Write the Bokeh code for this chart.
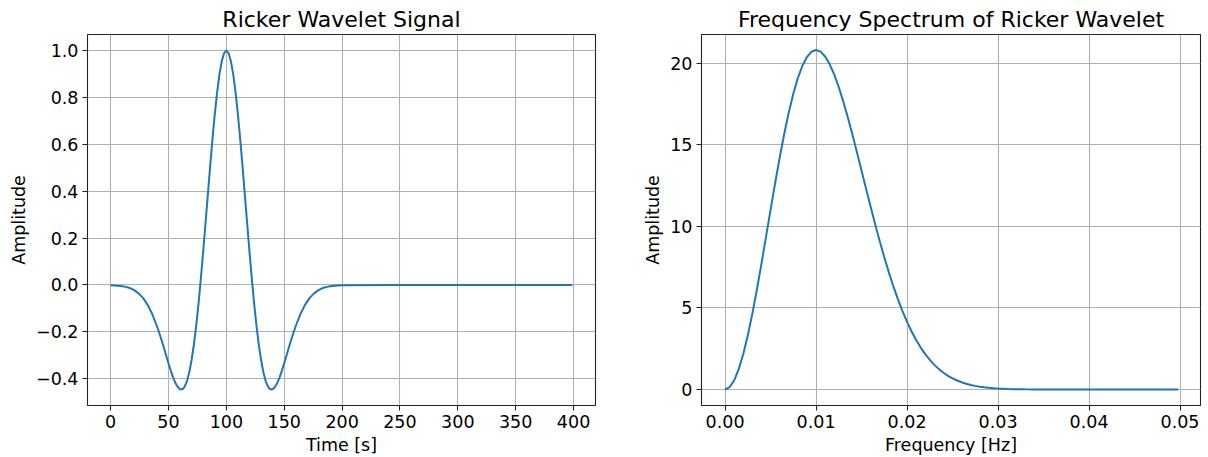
from bokeh.plotting import figure
from bokeh.layouts import row
from bokeh.models import Range1d, FixedTicker
from bokeh.embed import file_html
from bokeh.resources import INLINE

# ---- data ----
time_s = [0, 4, 8, 12, 16, 20, 24, 28, 32, 36, 40,
          42, 44, 46, 48, 50, 52, 54, 56, 58, 60, 62, 64, 66, 68, 70, 72, 74, 76, 78,
          80, 82, 84, 86, 88, 90, 92, 94, 96, 98, 100, 102, 104, 106, 108, 110, 112, 114,
          116, 118, 120, 122, 124, 126, 128, 130, 132, 134, 136, 138, 140, 142, 144, 146,
          148, 150, 152, 154, 156, 158,
          160, 164, 168, 172, 176, 180, 184, 188, 192, 196, 200,
          250, 300, 350, 399]
signal = [-0.001, -0.002, -0.004, -0.007, -0.012, -0.021, -0.035, -0.055, -0.085, -0.124,
          -0.175,
          -0.204, -0.235, -0.267, -0.301, -0.334, -0.365, -0.394, -0.418, -0.435, -0.445,
          -0.445, -0.434, -0.410, -0.372, -0.319, -0.253, -0.172, -0.078, 0.028,
          0.142, 0.262, 0.384, 0.505, 0.621, 0.727, 0.820, 0.897, 0.953, 0.988, 1.000,
          0.988, 0.953, 0.897, 0.820, 0.727, 0.621, 0.505, 0.384, 0.262,
          0.142, 0.028, -0.078, -0.172, -0.253, -0.319, -0.372, -0.410, -0.434, -0.445,
          -0.445, -0.435, -0.418, -0.394, -0.365, -0.334, -0.301, -0.267, -0.235, -0.204,
          -0.175, -0.124, -0.085, -0.055, -0.035, -0.021, -0.012, -0.007, -0.004, -0.002,
          -0.001, 0.0, 0.0, 0.0, 0.0]

freq_hz = [0.0, 0.0005, 0.001, 0.0015, 0.002, 0.0025, 0.003, 0.0035, 0.004, 0.0045,
           0.005, 0.0055, 0.006, 0.0065, 0.007, 0.0075, 0.008, 0.0085, 0.009, 0.0095,
           0.010, 0.0105, 0.011, 0.0115, 0.012, 0.0125, 0.013, 0.0135, 0.014, 0.0145,
           0.015, 0.0155, 0.016, 0.0165, 0.017, 0.0175, 0.018, 0.0185, 0.019, 0.0195,
           0.020, 0.0205, 0.021, 0.0215, 0.022, 0.0225, 0.023, 0.0235, 0.024, 0.0245,
           0.025, 0.0255, 0.026, 0.0265, 0.027, 0.0275, 0.028, 0.0285, 0.029, 0.0295,
           0.030, 0.031, 0.032, 0.033, 0.034, 0.036, 0.040, 0.045, 0.0498]
spectrum = [0.0, 0.141, 0.560, 1.244, 2.173, 3.320, 4.651, 6.128, 7.709, 9.350,
            11.008, 12.638, 14.201, 15.656, 16.973, 18.121, 19.080, 19.834, 20.373, 20.695,
            20.80, 20.698, 20.401, 19.925, 19.290, 18.518, 17.632, 16.654, 15.610, 14.520,
            13.408, 12.292, 11.190, 10.115, 9.081, 8.100, 7.175, 6.314, 5.521, 4.798,
            4.142, 3.554, 3.031, 2.568, 2.164, 1.812, 1.508, 1.248, 1.026, 0.839,
            0.682, 0.551, 0.443, 0.354, 0.281, 0.222, 0.175, 0.136, 0.106, 0.082,
            0.063, 0.036, 0.021, 0.011, 0.006, 0.002, 0.0, 0.0, 0.0]

left_xticks = [0, 50, 100, 150, 200, 250, 300, 350, 400]
left_yticks = [-0.4, -0.2, 0.0, 0.2, 0.4, 0.6, 0.8, 1.0]
left_ylabels = ["\u22120.4", "\u22120.2", "0.0", "0.2", "0.4", "0.6", "0.8", "1.0"]
right_xticks = [0.0, 0.01, 0.02, 0.03, 0.04, 0.05]
right_xlabels = ["0.00", "0.01", "0.02", "0.03", "0.04", "0.05"]
right_yticks = [0, 5, 10, 15, 20]

FONT = "DejaVu Sans"
LINE = "#1f77b4"


def style(p, xlabel, ylabel, title):
    p.title.text = title
    p.title.text_font = FONT
    p.title.text_font_size = "22px"
    p.title.text_font_style = "normal"
    p.title.align = "center"
    p.title.text_color = "#000000"
    p.title.offset = 0
    p.title.standoff = 6
    p.outline_line_color = "#222222"
    p.outline_line_width = 1.1
    p.background_fill_color = "white"
    p.border_fill_color = "white"
    for ax in (p.xaxis[0], p.yaxis[0]):
        ax.axis_line_color = None
        ax.major_tick_line_color = "#222222"
        ax.major_tick_line_width = 1.1
        ax.major_tick_out = 5
        ax.major_tick_in = 0
        ax.minor_tick_line_color = None
        ax.major_label_text_font = FONT
        ax.major_label_text_font_size = "17.5px"
        ax.major_label_text_color = "#000000"
        ax.axis_label_text_font = FONT
        ax.axis_label_text_font_size = "17.5px"
        ax.axis_label_text_font_style = "normal"
        ax.axis_label_text_color = "#000000"
        ax.major_label_standoff = 4
        ax.axis_label_standoff = 4
    p.xaxis[0].axis_label = xlabel
    p.yaxis[0].axis_label = ylabel
    for g in (p.xgrid[0], p.ygrid[0]):
        g.grid_line_color = "#b0b0b0"
        g.grid_line_width = 1.1


p1 = figure(width=640, height=457, output_backend="svg", toolbar_location=None,
            x_range=Range1d(-19.95, 418.95), y_range=Range1d(-0.514, 1.068),
            min_border_left=87, min_border_right=45, min_border_top=34, min_border_bottom=52)
p1.line(time_s, signal, line_color=LINE, line_width=2)
style(p1, "Time [s]", "Amplitude", "Ricker Wavelet Signal")
p1.xaxis[0].ticker = FixedTicker(ticks=left_xticks)
p1.yaxis[0].ticker = FixedTicker(ticks=left_yticks)
p1.yaxis[0].major_label_overrides = {t: l for t, l in zip(left_yticks, left_ylabels)}

p2 = figure(width=568, height=457, output_backend="svg", toolbar_location=None,
            x_range=Range1d(-0.00259, 0.05225), y_range=Range1d(-0.98, 21.75),
            min_border_left=53, min_border_right=8, min_border_top=34, min_border_bottom=52)
p2.line(freq_hz, spectrum, line_color=LINE, line_width=2)
style(p2, "Frequency [Hz]", "Amplitude", "Frequency Spectrum of Ricker Wavelet")
p2.xaxis[0].ticker = FixedTicker(ticks=right_xticks)
p2.xaxis[0].major_label_overrides = {t: l for t, l in zip(right_xticks, right_xlabels)}
p2.yaxis[0].ticker = FixedTicker(ticks=right_yticks)

layout = row(p1, p2)
with open("out.html", "w") as f:
    f.write(file_html(layout, INLINE))
